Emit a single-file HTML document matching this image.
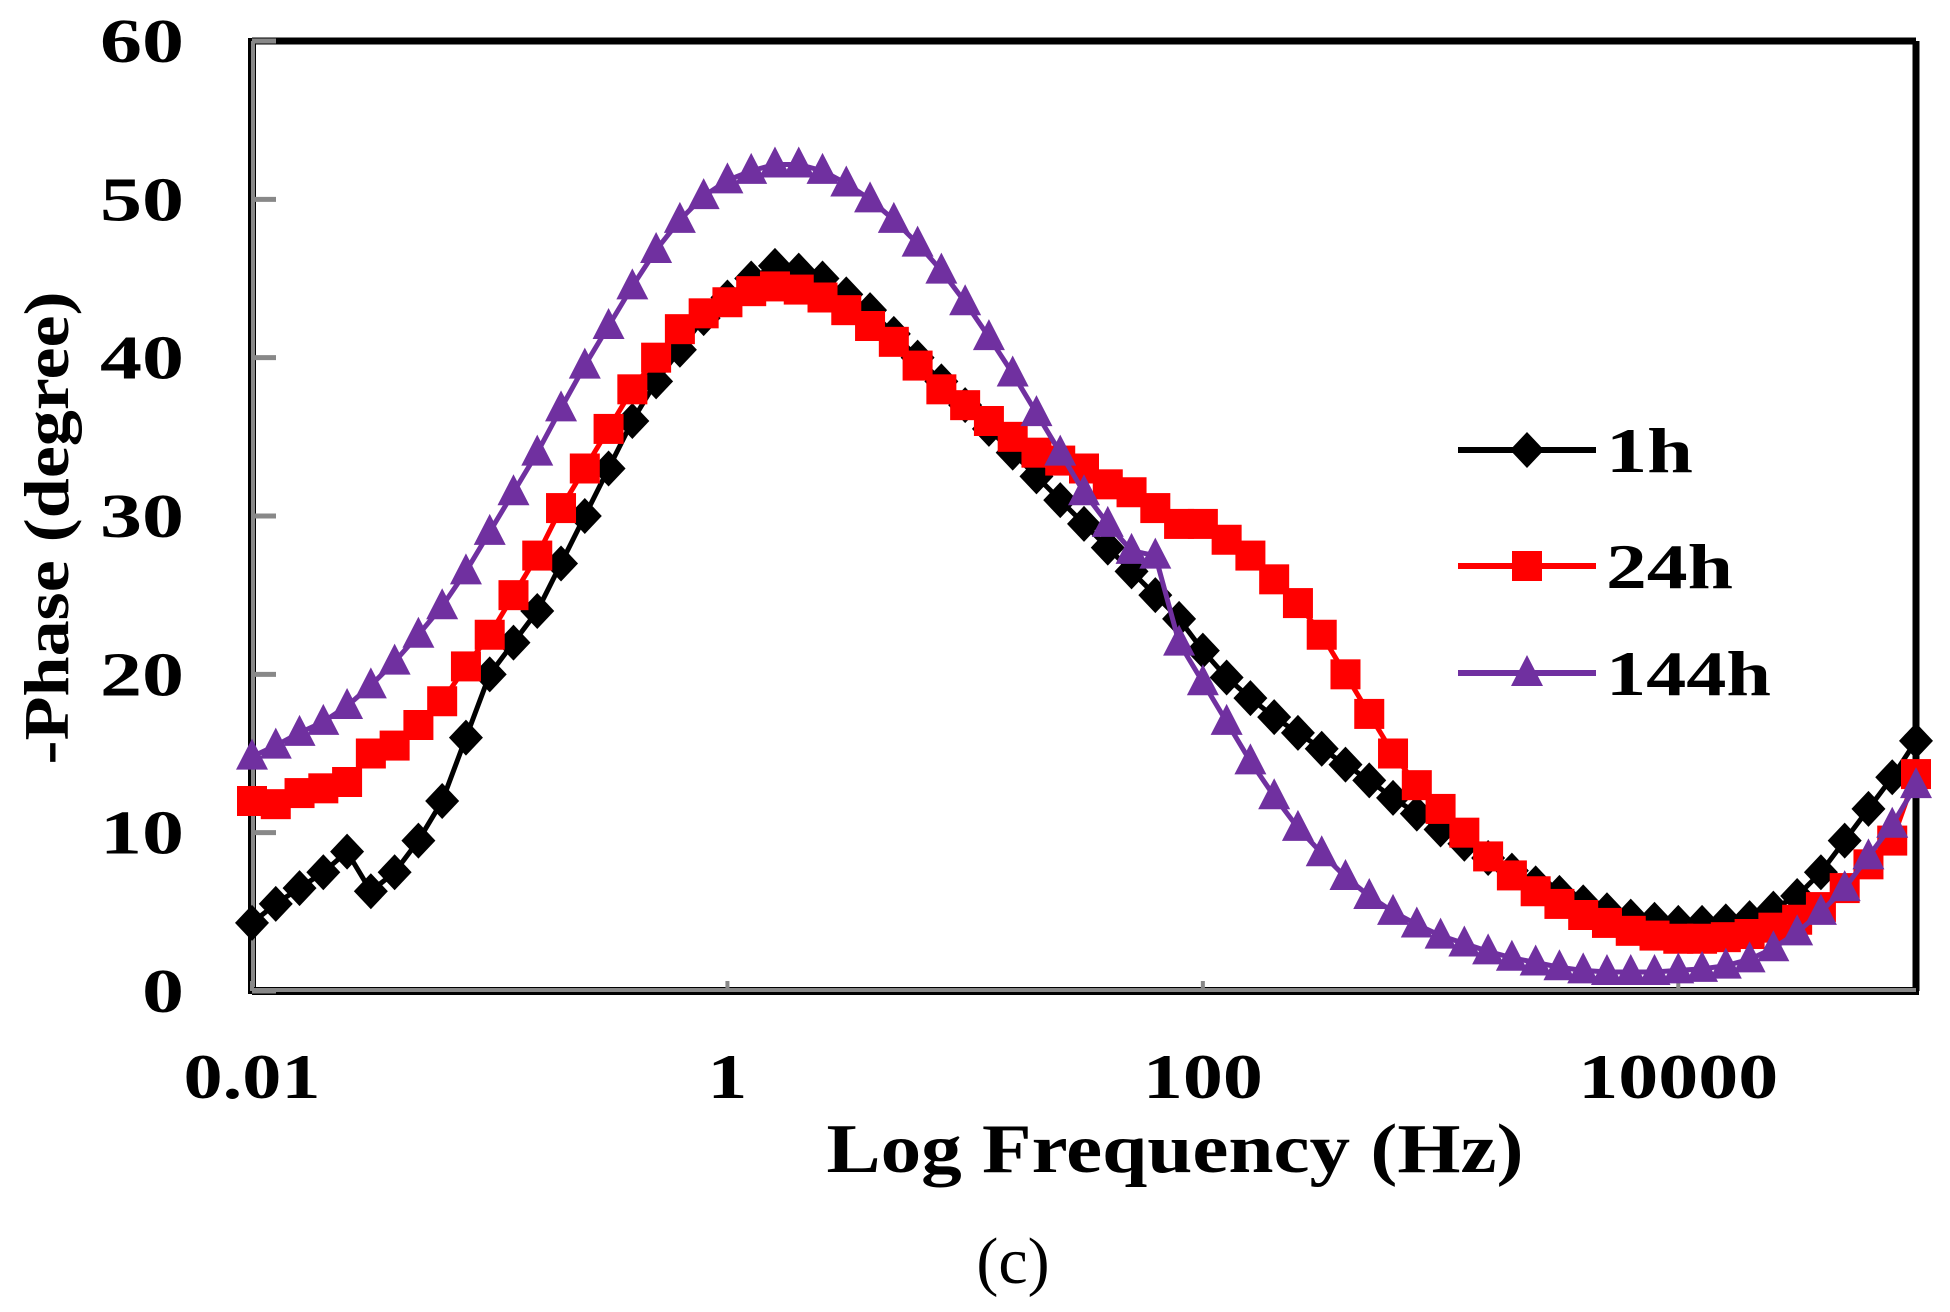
<!DOCTYPE html>
<html><head><meta charset="utf-8"><style>
html,body{margin:0;padding:0;background:#fff;}
svg{display:block;}
text{font-family:"Liberation Serif",serif;}
</style></head><body>
<svg id="chart" width="1950" height="1312" viewBox="0 0 1950 1312" xmlns="http://www.w3.org/2000/svg">
<rect width="1950" height="1312" fill="#fff"/>
<g id="axes"></g>
<g id="series"></g>
<g id="legend"></g>
<text transform="translate(68,528) rotate(-90)" text-anchor="middle" font-size="64" font-weight="bold" textLength="473" lengthAdjust="spacingAndGlyphs">-Phase (degree)</text>
<text x="1175" y="1172" text-anchor="middle" font-size="70" font-weight="bold" textLength="697" lengthAdjust="spacingAndGlyphs">Log Frequency (Hz)</text>
<text x="1013" y="1283" text-anchor="middle" font-size="66">(c)</text>
</svg>
<script>
const logFreq = [];
for (let i = 0; i <= 70; i++) logFreq.push(-2 + i * 0.1);
const series1h = [4.3,5.5,6.5,7.5,8.8,6.3,7.5,9.5,12,16,20,22,24,27,30,33,36,38.5,40.5,42.5,43.8,45,45.8,45.5,45,44,43,41.5,40,38.5,37,35.5,34,32.5,31,29.5,28,26.5,25,23.5,21.5,19.8,18.5,17.3,16.3,15.3,14.3,13.3,12.2,11.2,10.2,9.3,8.4,7.6,6.8,6.2,5.6,5.1,4.7,4.5,4.3,4.3,4.4,4.6,5.2,6,7.5,9.5,11.5,13.5,15.8];
const series24h = [12,11.8,12.5,12.8,13.2,15,15.5,16.8,18.3,20.5,22.5,25,27.5,30.5,33,35.5,38,40,41.8,42.8,43.5,44.2,44.5,44.3,43.8,43,42,41,39.5,38,37,36,35,34,33.5,33,32,31.5,30.5,29.5,29.5,28.5,27.5,26,24.5,22.5,20,17.5,15,13,11.5,10,8.5,7.3,6.3,5.5,4.8,4.3,3.8,3.5,3.3,3.3,3.4,3.6,4,4.5,5.3,6.5,8,9.5,13.7];
const series144h = [14.8,15.5,16.3,17,18,19.3,20.8,22.5,24.3,26.5,29,31.5,34,36.8,39.5,42,44.5,46.8,48.7,50.2,51.2,51.8,52.2,52.2,51.8,51,50,48.7,47.2,45.5,43.5,41.3,39,36.5,34,31.5,29.5,27.8,27.5,22,19.5,17,14.5,12.3,10.3,8.7,7.2,6,5,4.2,3.5,3,2.5,2.1,1.8,1.5,1.3,1.2,1.2,1.2,1.3,1.4,1.6,2,2.7,3.7,5,6.5,8.5,10.5,13];
const yTicks = [0,10,20,30,40,50,60];
const xTickLabels = ["0.01","1","100","10000"];
const xTickLogs = [-2,0,2,4];
const legendLabels = ["1h","24h","144h"];

const NS = "http://www.w3.org/2000/svg";
const L = 252, R = 1916, T = 41, B = 991;
const xScale = v => L + (v + 2) / 7 * (R - L);
const yScale = v => B - v / 60 * (B - T);
function mk(tag, attrs, parent) {
  const e = document.createElementNS(NS, tag);
  for (const k in attrs) e.setAttribute(k, attrs[k]);
  parent.appendChild(e);
  return e;
}
const axes = document.getElementById('axes');
let f = mk('line', {x1: L, y1: T, x2: R, y2: T, stroke: '#000', 'stroke-width': 7}, axes);


f = mk('line', {x1: R, y1: T, x2: R, y2: B, stroke: '#000', 'stroke-width': 7}, axes);


f = mk('line', {x1: L, y1: T - 3, x2: L, y2: B + 3, stroke: '#000', 'stroke-width': 8}, axes);


mk('line', {x1: L + 1, y1: T, x2: L + 1, y2: B, stroke: '#888', 'stroke-width': 4}, axes);
f = mk('line', {x1: L, y1: B, x2: R + 3, y2: B, stroke: '#000', 'stroke-width': 8}, axes);


mk('line', {x1: L, y1: B - 1, x2: R, y2: B - 1, stroke: '#888', 'stroke-width': 4}, axes);
yTicks.forEach(v => {
  const y = yScale(v);
  const t = mk('line', {x1: L, y1: y, x2: L + 24, y2: y, stroke: '#888', 'stroke-width': 5}, axes);
  
  
  const s = String(v);
  const tx = mk('text', {x: 184, y: y + 21, 'text-anchor': 'end', 'font-size': 62, 'font-weight': 'bold', textLength: s.length * 42, lengthAdjust: 'spacingAndGlyphs'}, axes);
  tx.textContent = s;
  
  
});
xTickLogs.forEach((v, i) => {
  const x = xScale(v);
  const t = mk('line', {x1: x, y1: B, x2: x, y2: B - 10, stroke: '#888', 'stroke-width': 4}, axes);
  
  
  const s = xTickLabels[i];
  const w = s.replace('.', '').length * 40 + (s.includes('.') ? 17 : 0);
  const tx = mk('text', {x: x, y: 1098, 'text-anchor': 'middle', 'font-size': 64, 'font-weight': 'bold', textLength: w, lengthAdjust: 'spacingAndGlyphs'}, axes);
  tx.textContent = s;
  
  
});
function marker(type, x, y, color, parent) {
  let e;
  if (type === 'diamond') e = mk('polygon', {points: `${x},${y-18} ${x+17},${y} ${x},${y+18} ${x-17},${y}`, fill: color}, parent);
  else if (type === 'square') e = mk('rect', {x: x - 15, y: y - 15, width: 30, height: 30, fill: color}, parent);
  else e = mk('polygon', {points: `${x},${y-18} ${x+16},${y+13} ${x-16},${y+13}`, fill: color}, parent);
  return e;
}
const seriesDefs = [
  {vals: series1h, color: '#000', type: 'diamond', name: '1h'},
  {vals: series24h, color: '#ff0000', type: 'square', name: '24h'},
  {vals: series144h, color: '#7030a0', type: 'triangle', name: '144h'}
];
const sg = document.getElementById('series');
seriesDefs.forEach(s => {
  const g = mk('g', {}, sg);
  
  
  const pts = s.vals.map((v, i) => xScale(logFreq[i]) + ',' + yScale(v)).join(' ');
  const pl = mk('polyline', {points: pts, fill: 'none', stroke: s.color, 'stroke-width': 5}, g);
  
  
  s.vals.forEach((v, i) => {
    const m = marker(s.type, xScale(logFreq[i]), yScale(v), s.color, g);
    
    
  });
});
const lg = document.getElementById('legend');


const legY = [450, 566, 673];
const legW = [87, 127, 165];
seriesDefs.forEach((s, i) => {
  const g = mk('g', {}, lg);
  
  
  mk('line', {x1: 1458, y1: legY[i], x2: 1596, y2: legY[i], stroke: s.color, 'stroke-width': 6}, g);
  marker(s.type, 1527, legY[i], s.color, g);
  const t = mk('text', {x: 1606, y: legY[i] + 22, 'font-size': 64, 'font-weight': 'bold', textLength: legW[i], lengthAdjust: 'spacingAndGlyphs'}, g);
  t.textContent = legendLabels[i];
});
</script>
</body></html>
